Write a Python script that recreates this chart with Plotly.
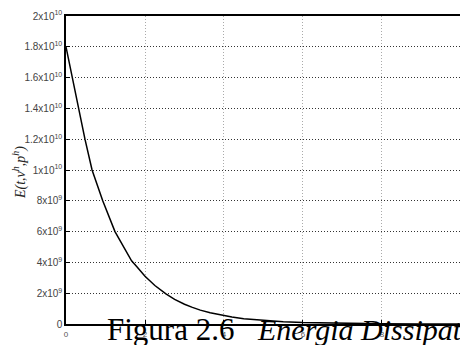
import plotly.graph_objects as go

# data
t_vals = [0, 0.16, 0.31, 0.48, 0.66, 0.93, 1.24, 1.45, 1.66, 1.8, 2.0, 2.25, 2.53, 2.75, 3.0, 3.2, 3.4,
          3.65, 3.9, 4.2, 4.5, 5.0, 5.5, 6.0, 7.0, 8.0, 9.0, 10.0]
e_vals = [1.8e10, 1.6e10, 1.4e10, 1.2e10, 1.0e10, 8e9, 6e9, 5e9, 4.1e9, 3.7e9, 3.1e9, 2.5e9, 1.95e9,
          1.6e9, 1.28e9, 1.08e9, 0.9e9, 0.73e9, 0.58e9, 0.45e9, 0.34e9, 0.22e9, 0.14e9, 0.09e9,
          0.04e9, 0.015e9, 0.006e9, 0.003e9]

y_tick_vals = [0, 2e9, 4e9, 6e9, 8e9, 1e10, 1.2e10, 1.4e10, 1.6e10, 1.8e10, 2e10]
y_tick_text = ["0", "2x10<sup>9</sup>", "4x10<sup>9</sup>", "6x10<sup>9</sup>", "8x10<sup>9</sup>",
               "1x10<sup>10</sup>", "1.2x10<sup>10</sup>", "1.4x10<sup>10</sup>", "1.6x10<sup>10</sup>",
               "1.8x10<sup>10</sup>", "2x10<sup>10</sup>"]
x_tick_vals = [0, 2, 4, 6, 8, 10]
x_tick_text = ["0", "2", "4", "6", "8", "10"]

fig = go.Figure()
fig.add_trace(go.Scatter(x=t_vals, y=e_vals, mode="lines", line=dict(color="black", width=1.5),
                         showlegend=False))

fig.update_layout(
    width=460, height=345,
    margin=dict(l=66, r=0, t=16, b=21),
    plot_bgcolor="white", paper_bgcolor="white",
    font=dict(family="Liberation Sans, Arial", size=10, color="#333"),
)
fig.update_xaxes(range=[0, 9.975], tickvals=x_tick_vals, ticktext=x_tick_text,
                 showline=True, linecolor="black", linewidth=1.5, mirror=True,
                 showgrid=True, gridcolor="#aaa", griddash="1px,2px", gridwidth=1,
                 ticks="inside", ticklen=4, tickcolor="black", ticklabelstandoff=2,
                 tickfont=dict(size=8, color="#555"), zeroline=False)
fig.update_yaxes(range=[0, 2e10], tickvals=y_tick_vals, ticktext=y_tick_text,
                 showline=True, linecolor="black", linewidth=1.5, mirror=False,
                 showgrid=True, gridcolor="#333", griddash="1px,2px", gridwidth=1,
                 ticks="inside", ticklen=4, tickcolor="black",
                 tickfont=dict(size=10, color="#444"), zeroline=False)

fig.add_annotation(text="<i>E(t,v<sup>h</sup>,p<sup>h</sup>)</i>", textangle=-90,
                   xref="paper", yref="paper", x=(19 - 66) / 394, y=(324 - 173) / 308,
                   xanchor="center", yanchor="middle",
                   showarrow=False, font=dict(family="Liberation Serif, DejaVu Serif", size=14, color="#222"))
fig.add_annotation(text="Figura 2.6", xref="paper", yref="paper",
                   x=(105 - 66) / 394, y=(324 - 329) / 308, xanchor="left", yanchor="middle",
                   showarrow=False, font=dict(family="Liberation Serif, DejaVu Serif", size=31, color="black"))
fig.add_annotation(text="<i>Energia Dissipata</i>", xref="paper", yref="paper",
                   x=(255 - 66) / 394, y=(324 - 329) / 308, xanchor="left", yanchor="middle",
                   showarrow=False, font=dict(family="Liberation Serif, DejaVu Serif", size=30, color="black"))

fig.write_html("out.html")
